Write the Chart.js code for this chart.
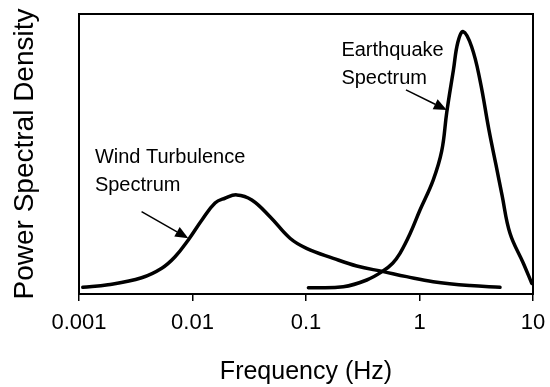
<!DOCTYPE html>
<html>
<head>
<meta charset="utf-8">
<script src="https://cdn.jsdelivr.net/npm/chart.js@4/dist/chart.umd.min.js"></script>
<style>
  html, body { margin: 0; padding: 0; background: #fff; }
  #wrap { width: 550px; height: 387px; }
</style>
</head>
<body>
<div id="wrap"><canvas id="c" width="550" height="387"></canvas></div>
<script>
// 風の乱れと地震動のパワースペクトル密度（相対値）

const tickValues = [0.001, 0.01, 0.1, 1, 10];
const tickLabels = ['0.001', '0.01', '0.1', '1', '10'];

const windFreq = [0.00108, 0.0018, 0.00356, 0.00536, 0.00702, 0.00918, 0.0121, 0.0158, 0.0193, 0.0245, 0.0333, 0.0482, 0.0723, 0.101, 0.174, 0.28, 0.48, 0.77, 1.32, 2.79, 5.12];
const windPsd  = [2.4, 3.3, 5.8, 9.2, 13.3, 19.3, 26.4, 32.5, 34.2, 35.4, 33.6, 27.6, 19.9, 16.3, 12.75, 10.0, 8.0, 6.2, 4.4, 3.0, 2.4];

const eqFreq = [0.105, 0.213, 0.343, 0.48, 0.58, 0.673, 0.825, 1.01, 1.32, 1.57, 1.74, 1.99, 2.18, 2.43, 2.88, 3.41, 4.09, 4.72, 5.33, 6.27, 8.22, 9.75];
const eqPsd  = [2.25, 2.6, 5.0, 8.3, 11.0, 14.5, 21.5, 30.0, 40.7, 51.1, 65.0, 80.0, 90.0, 93.7, 88.3, 76.4, 58.6, 46.1, 35.4, 21.7, 11.0, 3.8];

// 注記（データ座標）
const notes = [
  { lines: ['Wind Turbulence', 'Spectrum'], x: 0.00138, y: [48.75, 38.9],
    arrow: { from: [0.00356, 29.4], to: [0.00918, 19.9] } },
  { lines: ['Earthquake', 'Spectrum'], x: 0.205, y: [87, 77],
    arrow: { from: [0.76, 72.9], to: [1.74, 65.7] } },
];

const FONT = "'Liberation Sans', Arial, sans-serif";

const toPts = (xs, ys) => xs.map((x, i) => ({ x, y: ys[i] }));

const frameAndNotes = {
  id: 'frameAndNotes',
  afterDatasetsDraw(chart) {
    const { ctx, chartArea: a, scales: { x, y } } = chart;
    ctx.save();
    ctx.strokeStyle = '#000';
    ctx.lineWidth = 2;
    ctx.strokeRect(a.left, a.top, a.right - a.left, a.bottom - a.top);

    ctx.fillStyle = '#000';
    ctx.font = '20px ' + FONT;
    ctx.textAlign = 'left';
    ctx.textBaseline = 'middle';
    notes.forEach(n => {
      n.lines.forEach((t, i) => ctx.fillText(t, x.getPixelForValue(n.x), y.getPixelForValue(n.y[i])));
      const x0 = x.getPixelForValue(n.arrow.from[0]), y0 = y.getPixelForValue(n.arrow.from[1]);
      const x1 = x.getPixelForValue(n.arrow.to[0]), y1 = y.getPixelForValue(n.arrow.to[1]);
      const ang = Math.atan2(y1 - y0, x1 - x0);
      const hl = 13, hw = 5.5;
      const bx = x1 - hl * Math.cos(ang), by = y1 - hl * Math.sin(ang);
      ctx.lineWidth = 1.5;
      ctx.beginPath();
      ctx.moveTo(x0, y0);
      ctx.lineTo(bx, by);
      ctx.stroke();
      ctx.beginPath();
      ctx.moveTo(x1, y1);
      ctx.lineTo(bx + hw * Math.sin(ang), by - hw * Math.cos(ang));
      ctx.lineTo(bx - hw * Math.sin(ang), by + hw * Math.cos(ang));
      ctx.closePath();
      ctx.fill();
    });
    ctx.restore();
  }
};

const lineStyle = {
  borderColor: '#000',
  borderWidth: 3.5,
  borderCapStyle: 'round',
  borderJoinStyle: 'round',
  pointRadius: 0,
  fill: false,
  tension: 0.4,
};

new Chart(document.getElementById('c'), {
  type: 'line',
  data: {
    datasets: [
      { label: 'Wind Turbulence Spectrum', data: toPts(windFreq, windPsd), ...lineStyle },
      { label: 'Earthquake Spectrum', data: toPts(eqFreq, eqPsd), ...lineStyle },
    ],
  },
  options: {
    responsive: false,
    animation: false,
    layout: { padding: { left: 0, top: 14, right: 17, bottom: 0 } },
    plugins: { legend: { display: false }, tooltip: { enabled: false } },
    scales: {
      x: {
        type: 'logarithmic',
        min: 0.001,
        max: 10,
        afterBuildTicks: s => { s.ticks = tickValues.map(v => ({ value: v })); },
        afterFit: s => { s.height = 93; s.paddingLeft = 0; s.paddingRight = 0; },
        ticks: {
          autoSkip: false,
          maxRotation: 0,
          padding: 9,
          color: '#000',
          font: { family: FONT, size: 22 },
          callback: (v) => tickLabels[tickValues.indexOf(v)] ?? '',
        },
        grid: { drawOnChartArea: false, drawTicks: true, tickLength: 7, color: '#000', lineWidth: 1.5 },
        border: { display: false },
        title: {
          display: true,
          text: 'Frequency (Hz)',
          color: '#000',
          font: { family: FONT, size: 25 },
          padding: { top: 0, bottom: 0 },
        },
      },
      y: {
        min: 0,
        max: 100,
        afterFit: s => { s.width = 79; },
        ticks: { display: false },
        grid: { display: false, drawTicks: false },
        border: { display: false },
        title: {
          display: true,
          text: 'Power Spectral Density',
          color: '#000',
          font: { family: FONT, size: 28 },
          padding: { top: 8, bottom: 0 },
        },
      },
    },
  },
  plugins: [frameAndNotes],
});
</script>
</body>
</html>
